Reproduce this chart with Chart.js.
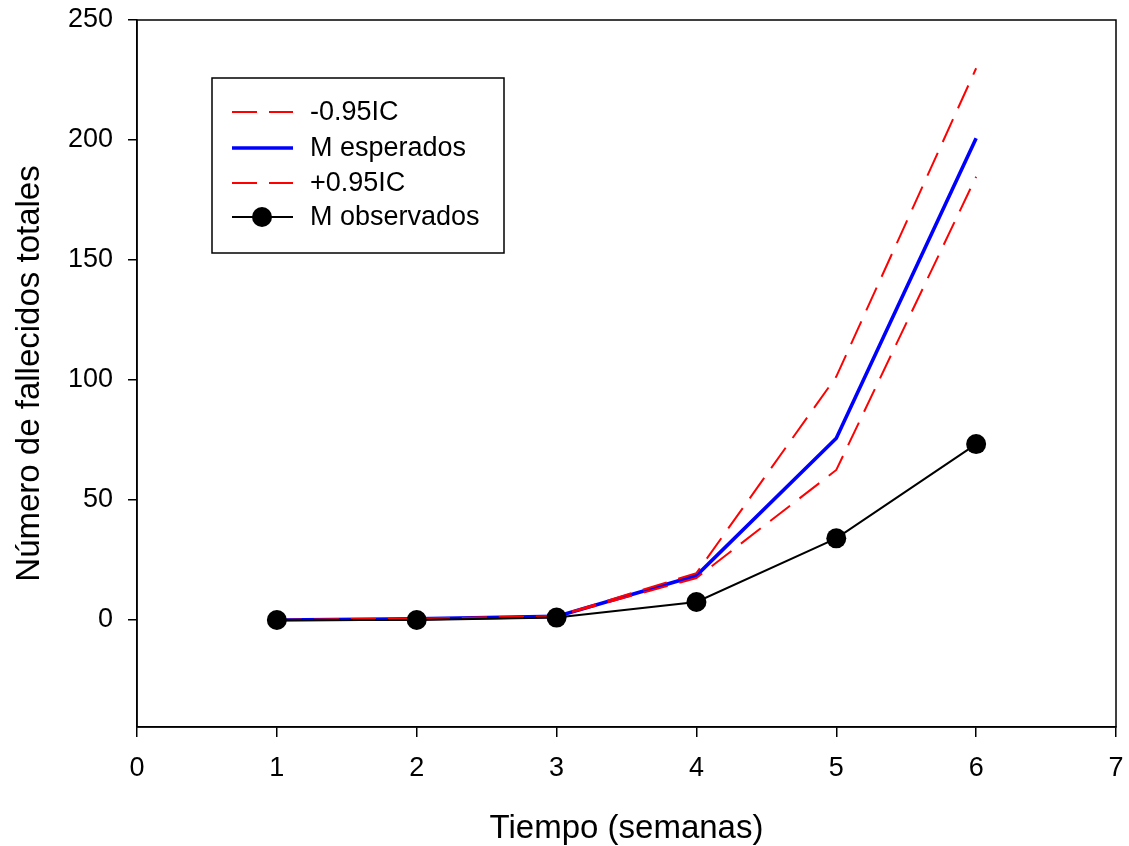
<!DOCTYPE html>
<html>
<head>
<meta charset="utf-8">
<script src="https://cdn.jsdelivr.net/npm/chart.js@4/dist/chart.umd.min.js"></script>
<style>
html,body{margin:0;padding:0;background:#fff;}
#wrap{width:1129px;height:846px;position:relative;}
</style>
</head>
<body>
<div id="wrap"><canvas id="c" width="1129" height="846"></canvas></div>
<script>
const weeks = [1, 2, 3, 4, 5, 6];
const lowerCI = [0, 0.5, 1.5, 17.5, 62.5, 184.7];
const expected = [0, 0.5, 1.5, 18.5, 75.7, 200.7];
const upperCI = [0, 0.5, 1.5, 19.5, 101.4, 229.9];
const observed = [0, 0, 1, 7.5, 34, 73.3];
const labels = ['-0.95IC', 'M esperados', '+0.95IC', 'M observados'];
const yTicks = [0, 50, 100, 150, 200, 250];
const xTicks = [0, 1, 2, 3, 4, 5, 6, 7];

const FONT = "Arial, 'Liberation Sans', sans-serif";
const pts = arr => weeks.map((w, i) => ({x: w, y: arr[i]}));

const frame = {
  id: 'frame',
  afterDatasetsDraw(chart) {
    const {ctx, chartArea: a} = chart;
    ctx.save();
    ctx.strokeStyle = '#000';
    ctx.lineWidth = 1.5;
    ctx.strokeRect(a.left, a.top, a.right - a.left, a.bottom - a.top);
    ctx.restore();
  },
  afterDraw(chart) {
    const ctx = chart.ctx;
    const bx = 212, by = 78, bw = 292, bh = 175;
    ctx.save();
    ctx.fillStyle = '#fff';
    ctx.fillRect(bx, by, bw, bh);
    ctx.strokeStyle = '#000';
    ctx.lineWidth = 1.5;
    ctx.strokeRect(bx, by, bw, bh);
    const rows = [112, 148, 183, 217];
    const ds = chart.data.datasets;
    rows.forEach((ry, i) => {
      const d = ds[i];
      ctx.beginPath();
      ctx.strokeStyle = d.borderColor;
      ctx.lineWidth = d.borderWidth;
      ctx.setLineDash(d.borderDash || []);
      ctx.moveTo(232, ry);
      ctx.lineTo(293, ry);
      ctx.stroke();
      ctx.setLineDash([]);
      if (d.pointRadius > 0) {
        ctx.beginPath();
        ctx.fillStyle = d.pointBackgroundColor;
        ctx.arc(262, ry, d.pointRadius, 0, Math.PI * 2);
        ctx.fill();
      }
      ctx.fillStyle = '#000';
      ctx.font = '27px ' + FONT;
      ctx.textBaseline = 'middle';
      ctx.textAlign = 'left';
      ctx.fillText(d.label, 310, ry + 1);
    });
    ctx.restore();
  }
};

new Chart(document.getElementById('c'), {
  type: 'line',
  data: {
    datasets: [
      {label: labels[0], data: pts(lowerCI), borderColor: '#ff0000', borderWidth: 2, borderDash: [25, 12], pointRadius: 0, order: 1},
      {label: labels[1], data: pts(expected), borderColor: '#0000ff', borderWidth: 3.6, pointRadius: 0, order: 3},
      {label: labels[2], data: pts(upperCI), borderColor: '#ff0000', borderWidth: 2, borderDash: [25, 12], pointRadius: 0, order: 2},
      {label: labels[3], data: pts(observed), borderColor: '#000', borderWidth: 2, pointRadius: 10, pointBackgroundColor: '#000', pointBorderColor: '#000', pointBorderWidth: 0, order: 0}
    ]
  },
  options: {
    responsive: false,
    animation: false,
    devicePixelRatio: 1,
    layout: {padding: {left: 0, right: 13, top: 20, bottom: 0}},
    plugins: {legend: {display: false}, tooltip: {enabled: false}},
    elements: {line: {tension: 0}},
    scales: {
      x: {
        type: 'linear', min: 0, max: 7,
        afterBuildTicks: s => { s.ticks = xTicks.map(v => ({value: v})); },
        afterFit: s => { s.height = 119; s.paddingLeft = 0; s.paddingRight = 0; },
        grid: {drawOnChartArea: false, tickLength: 10, color: '#000', lineWidth: 1.5},
        border: {display: true, color: '#000', width: 1.5},
        ticks: {color: '#000', font: {size: 27, family: FONT}, padding: 15, maxRotation: 0},
        title: {display: true, text: 'Tiempo (semanas)', color: '#000', font: {size: 33, family: FONT}, padding: {top: 10, bottom: -3}}
      },
      y: {
        type: 'linear', min: -44.6, max: 250,
        afterBuildTicks: s => { s.ticks = yTicks.map(v => ({value: v})); },
        afterFit: s => { s.width = 137; s.paddingTop = 0; s.paddingBottom = 0; },
        grid: {drawOnChartArea: false, tickLength: 9, color: '#000', lineWidth: 1.5},
        border: {display: true, color: '#000', width: 1.5},
        ticks: {color: '#000', font: {size: 27, family: FONT}, padding: 15},
        title: {display: true, text: 'Número de fallecidos totales', color: '#000', font: {size: 33, family: FONT}, padding: {top: 10, bottom: 6}}
      }
    }
  },
  plugins: [frame]
});
</script>
</body>
</html>
